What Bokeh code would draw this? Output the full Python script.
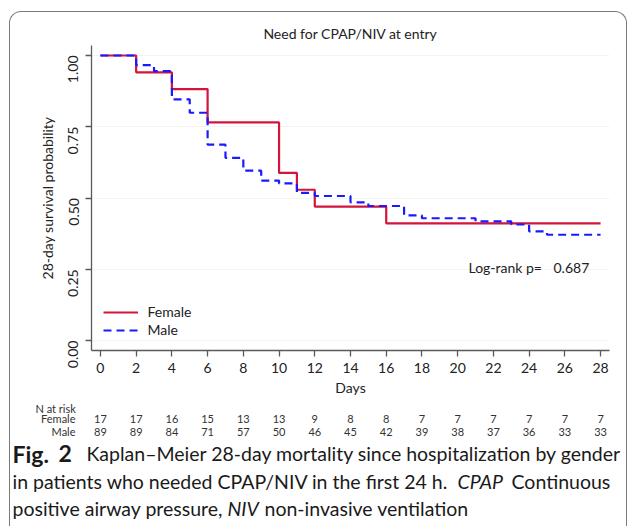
import math
from bokeh.plotting import figure
from bokeh.layouts import column
from bokeh.models import (Range1d, Label, Legend, LegendItem, FixedTicker, NumeralTickFormatter)
from bokeh.core.properties import value
from bokeh.embed import file_html
from bokeh.resources import INLINE

# ---------------- data ----------------
female_days = [0, 2, 4, 6, 10, 11, 12, 16, 28]
female_surv = [1.0, 0.941, 0.882, 0.765, 0.588, 0.529, 0.470, 0.411, 0.411]
male_days = [0, 2, 3, 4, 5, 6, 7, 8, 9, 10, 11, 12, 14, 15, 17, 18, 21, 23, 24, 25, 28]
male_surv = [1.0, 0.966, 0.945, 0.846, 0.799, 0.687, 0.641, 0.596, 0.561, 0.551, 0.518,
             0.507, 0.485, 0.472, 0.439, 0.429, 0.418, 0.407, 0.383, 0.371, 0.371]
risk_days = [0, 2, 4, 6, 8, 10, 12, 14, 16, 18, 20, 22, 24, 26, 28]
female_at_risk = [17, 17, 16, 15, 13, 13, 9, 8, 8, 7, 7, 7, 7, 7, 7]
male_at_risk = [89, 89, 84, 71, 57, 50, 46, 45, 42, 39, 38, 37, 36, 33, 33]
x_ticks = [0, 2, 4, 6, 8, 10, 12, 14, 16, 18, 20, 22, 24, 26, 28]
y_ticks = [0.0, 0.25, 0.5, 0.75, 1.0]
p_value_text = "0.687"

# ---------------- geometry (page pixels) ----------------
OX, OY = 10, 12                   # content origin inside the rounded panel
FL, FT, FR, FB = 91, 45, 609, 350  # plot frame edges
PW = 616                          # panel content width
P_BOTTOM = 400                    # bottom of chart figure
QH = 126                          # height of the table/caption strip
X0, X1 = -0.5, 28.5
Y0, Y1 = -0.035, 1.035
FONT = "Lato"
CAP_FONT = "Lato"
INK = "#222222"

def PX(px):   # page x -> day units
    return X0 + (px - FL) / (FR - FL) * (X1 - X0)

def PY(py):   # page y -> survival units
    return Y0 + (FB - py) / (FB - FT) * (Y1 - Y0)

# ---------------- chart figure ----------------
p = figure(width=PW, height=P_BOTTOM - OY, x_range=Range1d(X0, X1), y_range=Range1d(Y0, Y1),
           output_backend="svg", toolbar_location=None,
           min_border_left=FL - OX, min_border_right=PW - (FR - OX),
           min_border_top=FT - OY, min_border_bottom=P_BOTTOM - FB)
p.frame_align = False
p.border_fill_color = None
p.outline_line_color = None
p.xgrid.grid_line_color = None
p.ygrid.grid_line_color = "#f3f3f3"
p.ygrid.ticker = FixedTicker(ticks=y_ticks)

p.title.text = "Need for CPAP/NIV at entry"
p.title.align = "center"
p.title.text_font = FONT
p.title.text_font_size = "14px"
p.title.text_font_style = "normal"
p.title.text_color = INK
p.title.standoff = 8

r_f = p.step(x=female_days, y=female_surv, mode="after", line_color="#D3153C", line_width=2.2)
r_m = p.step(x=male_days, y=male_surv, mode="after", line_color="#1a1aff", line_width=2.2,
             line_dash="8 5")

legend = Legend(items=[LegendItem(label="Female", renderers=[r_f]),
                       LegendItem(label="Male", renderers=[r_m])],
                location=(12, 11), border_line_color=None, background_fill_alpha=0,
                glyph_width=35, glyph_height=18, label_height=18, label_standoff=10,
                spacing=0, padding=0, margin=0,
                label_text_font=FONT, label_text_font_size="14px", label_text_color=INK)
p.add_layout(legend)

for ax in (p.xaxis, p.yaxis):
    ax.axis_line_color = "#5a5a5a"
    ax.axis_line_width = 1.3
    ax.major_tick_line_color = "#5a5a5a"
    ax.major_tick_line_width = 1.3
    ax.major_tick_out = 6
    ax.major_tick_in = 0
    ax.minor_tick_line_color = None
    ax.major_label_text_font = FONT
    ax.major_label_text_font_size = "14px"
    ax.major_label_text_color = INK
    ax.axis_label_text_font = FONT
    ax.axis_label_text_font_size = "14px"
    ax.axis_label_text_font_style = "normal"
    ax.axis_label_text_color = INK

p.xaxis.ticker = FixedTicker(ticks=x_ticks)
p.xaxis.axis_label = "Days"
p.xaxis.major_label_standoff = 6
p.xaxis.axis_label_standoff = 3

p.yaxis.ticker = FixedTicker(ticks=y_ticks)
p.yaxis.formatter = NumeralTickFormatter(format="0.00")
p.yaxis.major_label_orientation = math.pi / 2
p.yaxis.axis_label = "28-day survival probability"
p.yaxis.major_label_standoff = 12
p.yaxis.axis_label_standoff = 5

for px, txt in ((468, "Log-rank p="), (553, p_value_text)):
    p.add_layout(Label(x=PX(px), y=PY(267), text=txt, text_font=FONT, text_font_size="14px",
                       text_baseline="middle", text_color=INK))

# ---------------- risk table + caption strip ----------------
q = figure(width=PW, height=QH, x_range=Range1d(PX(OX), PX(OX + PW)),
           y_range=Range1d(P_BOTTOM + QH, P_BOTTOM),
           output_backend="svg", toolbar_location=None,
           x_axis_location=None, y_axis_location=None,
           min_border=0, min_border_left=0, min_border_right=0,
           min_border_top=0, min_border_bottom=0)
q.frame_align = False
q.border_fill_color = None
q.background_fill_color = None
q.outline_line_color = None
q.grid.visible = False

def qtext(px_list, py_list, texts, size, align="left", style="normal", color=INK, font=FONT,
          day_units=False):
    xs = px_list if day_units else [PX(v) for v in px_list]
    q.text(x=xs, y=py_list, text=texts, text_font=value(font), text_font_size=f"{size}px",
           text_align=align, text_baseline="middle", text_font_style=style, text_color=color)

qtext([35], [408], ["N at risk"], 11, color="#333333")
qtext([75, 75], [418, 431], ["Female", "Male"], 11, align="right", color="#333333")
qtext(risk_days, [418] * len(risk_days), [str(v) for v in female_at_risk], 11,
      align="center", color="#333333", day_units=True)
qtext(risk_days, [431] * len(risk_days), [str(v) for v in male_at_risk], 11,
      align="center", color="#333333", day_units=True)

CAP = "#1a1a1a"
CS = 19.5
qtext([12], [453], ["Fig."], 23, style="bold", color=CAP, font=CAP_FONT)
qtext([58], [453], ["2"], 23, style="bold", color=CAP, font=CAP_FONT)
qtext([86], [453], ["Kaplan\u2013Meier 28-day mortality since hospitalization by gender"], CS,
      color=CAP, font=CAP_FONT)
qtext([12], [481], ["in patients who needed CPAP/NIV in the first 24 h."], CS, color=CAP, font=CAP_FONT)
qtext([457], [481], ["CPAP"], CS, style="italic", color=CAP, font=CAP_FONT)
qtext([511], [481], ["Continuous"], CS, color=CAP, font=CAP_FONT)
qtext([12], [508], ["positive airway pressure,"], CS, color=CAP, font=CAP_FONT)
qtext([227], [508], ["NIV"], CS, style="italic", color=CAP, font=CAP_FONT)
qtext([264], [508], ["non-invasive ventilation"], CS, color=CAP, font=CAP_FONT)

panel_css = {
    "margin-left": "8.5px",
    "margin-top": "10.5px",
    "border-top": "1.5px solid #7a7a7a",
    "border-left": "1.5px solid #7a7a7a",
    "border-right": "1.5px solid #7a7a7a",
    "border-radius": "12px 12px 0 0",
}
layout = column(p, q, spacing=0, styles=panel_css)

open("out.html", "w").write(file_html(layout, INLINE))
